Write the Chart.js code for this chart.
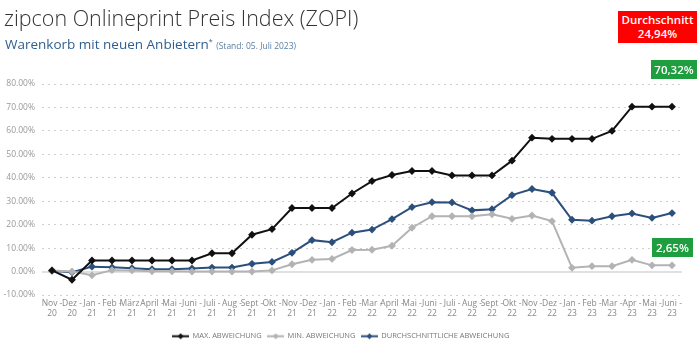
<!DOCTYPE html>
<html>
<head>
<meta charset="utf-8">
<script src="https://cdn.jsdelivr.net/npm/chart.js@4.4.0/dist/chart.umd.min.js"></script>
<style>
  body { margin: 0; background: #fff; font-family: "Open Sans", sans-serif; }
  #wrap { position: relative; width: 700px; height: 350px; overflow: hidden; }
  #chart { position: absolute; left: 0; top: 0; }
  .titel { position: absolute; left: 4px; top: 3px; font-size: 21.5px; font-weight: 300; color: #333; white-space: nowrap; }
  .untertitel { position: absolute; left: 5px; top: 35px; font-size: 13.5px; color: #2f5f8f; white-space: nowrap; }
  .untertitel sup { font-size: 7px; }
  .untertitel small { font-size: 8.5px; color: #5a7ea3; }
  .badge { position: absolute; color: #fff; text-align: center; font-size: 11.5px; line-height: 14px; font-weight: 600; }
  .rot { background: #ff0000; left: 618px; top: 11px; width: 79px; height: 32px; padding-top: 2px; box-sizing: border-box; }
  .gruen { background: #1f9e3f; height: 19px; line-height: 19px; }
</style>
</head>
<body>
<div id="wrap">
  <canvas id="chart" width="700" height="350"></canvas>
  <div class="titel">zipcon Onlineprint Preis Index (ZOPI)</div>
  <div class="untertitel">Warenkorb mit neuen Anbietern<sup>*</sup> <small>(Stand: 05. Juli 2023)</small></div>
  <div class="badge rot">Durchschnitt<br>24,94%</div>
  <div class="badge gruen" style="left:651px; top:60px; width:46px;">70,32%</div>
  <div class="badge gruen" style="left:652px; top:238px; width:41px;">2,65%</div>
</div>
<script>
const monate = [
  ['Nov -', '20'], ['Dez -', '20'],
  ['Jan -', '21'], ['Feb -', '21'], ['März -', '21'], ['April -', '21'], ['Mai -', '21'], ['Juni -', '21'],
  ['Juli -', '21'], ['Aug -', '21'], ['Sept -', '21'], ['Okt -', '21'], ['Nov -', '21'], ['Dez -', '21'],
  ['Jan -', '22'], ['Feb -', '22'], ['Mar -', '22'], ['April -', '22'], ['Mai -', '22'], ['Juni -', '22'],
  ['Juli -', '22'], ['Aug -', '22'], ['Sept -', '22'], ['Okt -', '22'], ['Nov -', '22'], ['Dez -', '22'],
  ['Jan -', '23'], ['Feb -', '23'], ['Mar -', '23'], ['Apr -', '23'], ['Mai -', '23'], ['Juni -', '23']
];

const maxAbweichung = [
  0.5, -3.5, 4.7, 4.7, 4.7, 4.7, 4.7, 4.7, 7.8, 7.8, 15.7, 18.1, 27.1, 27.1, 27.1, 33.3,
  38.6, 41.2, 42.9, 42.9, 41.0, 41.0, 41.0, 47.3, 57.1, 56.6, 56.6, 56.6, 60.0, 70.32, 70.32, 70.32
];
const minAbweichung = [
  0.5, 0.0, -1.6, 0.6, 0.5, 0.1, 0.1, 0.0, 0.0, 0.0, 0.0, 0.5, 3.1, 5.0, 5.4, 9.2,
  9.3, 11.0, 18.7, 23.6, 23.6, 23.6, 24.4, 22.5, 23.9, 21.5, 1.6, 2.3, 2.3, 5.0, 2.65, 2.65
];
const durchschnitt = [
  0.3, -0.3, 2.1, 1.8, 1.4, 1.0, 1.0, 1.3, 1.7, 1.7, 3.3, 4.1, 8.0, 13.4, 12.5, 16.6,
  17.9, 22.4, 27.5, 29.6, 29.5, 26.1, 26.6, 32.6, 35.2, 33.6, 22.1, 21.7, 23.6, 24.8, 22.9, 24.94
];

const yTicks = [-10, 0, 10, 20, 30, 40, 50, 60, 70, 80];

// kleines Legendensymbol: Linie mit Raute
function legendenSymbol(farbe) {
  const c = document.createElement('canvas');
  c.width = 17;
  c.height = 7;
  const ctx = c.getContext('2d');
  ctx.strokeStyle = farbe;
  ctx.lineWidth = 2;
  ctx.beginPath();
  ctx.moveTo(0, 3.5);
  ctx.lineTo(17, 3.5);
  ctx.stroke();
  ctx.fillStyle = farbe;
  ctx.beginPath();
  ctx.moveTo(8.5, 0.5);
  ctx.lineTo(11.5, 3.5);
  ctx.lineTo(8.5, 6.5);
  ctx.lineTo(5.5, 3.5);
  ctx.closePath();
  ctx.fill();
  return c;
}

function linie(label, data, farbe) {
  return {
    label: label,
    data: data,
    borderColor: farbe,
    backgroundColor: farbe,
    borderWidth: 2,
    pointStyle: 'rectRot',
    pointRadius: 2.5,
    pointHoverRadius: 3,
    tension: 0
  };
}

new Chart(document.getElementById('chart'), {
  type: 'line',
  data: {
    labels: monate,
    datasets: [
      linie('MAX. ABWEICHUNG', maxAbweichung, '#111111'),
      linie('MIN. ABWEICHUNG', minAbweichung, '#b3b3b3'),
      linie('DURCHSCHNITTLICHE ABWEICHUNG', durchschnitt, '#2c4f7c')
    ]
  },
  options: {
    responsive: false,
    animation: false,
    layout: { padding: { top: 84, right: 18, left: 0, bottom: 0 } },
    plugins: {
      legend: {
        position: 'bottom',
        labels: {
          color: '#777',
          font: { family: 'Open Sans', size: 7.5 },
          usePointStyle: true,
          pointStyleWidth: 16,
          padding: 6,
          generateLabels: (ch) => {
            const items = Chart.defaults.plugins.legend.labels.generateLabels(ch);
            items.forEach(it => {
              it.pointStyle = legendenSymbol(ch.data.datasets[it.datasetIndex].borderColor);
            });
            return items;
          }
        }
      },
      tooltip: { enabled: false }
    },
    scales: {
      x: {
        offset: true,
        afterFit: (scale) => { scale.height = 31.5; },
        grid: { display: false, drawTicks: false },
        border: { display: false },
        ticks: {
          color: '#888',
          font: { family: 'Open Sans', size: 8.5 },
          autoSkip: false,
          maxRotation: 0,
          minRotation: 0,
          padding: 3
        }
      },
      y: {
        min: -10,
        max: 80,
        afterFit: (scale) => { scale.width = 42; },
        afterBuildTicks: (scale) => { scale.ticks = yTicks.map(v => ({ value: v })); },
        border: {
          display: false,
          dash: (ctx) => ctx.tick && ctx.tick.value === 0 ? [] : [2, 4]
        },
        grid: {
          drawTicks: false,
          color: (ctx) => ctx.tick && ctx.tick.value === 0 ? '#e0e0e0' : '#cfcfcf',
          lineWidth: (ctx) => ctx.tick && ctx.tick.value === 0 ? 2 : 1
        },
        ticks: {
          color: '#999',
          font: { family: 'Open Sans', size: 8.5 },
          padding: 7,
          callback: (v) => v.toFixed(2) + '%'
        }
      }
    }
  }
});
</script>
</body>
</html>
